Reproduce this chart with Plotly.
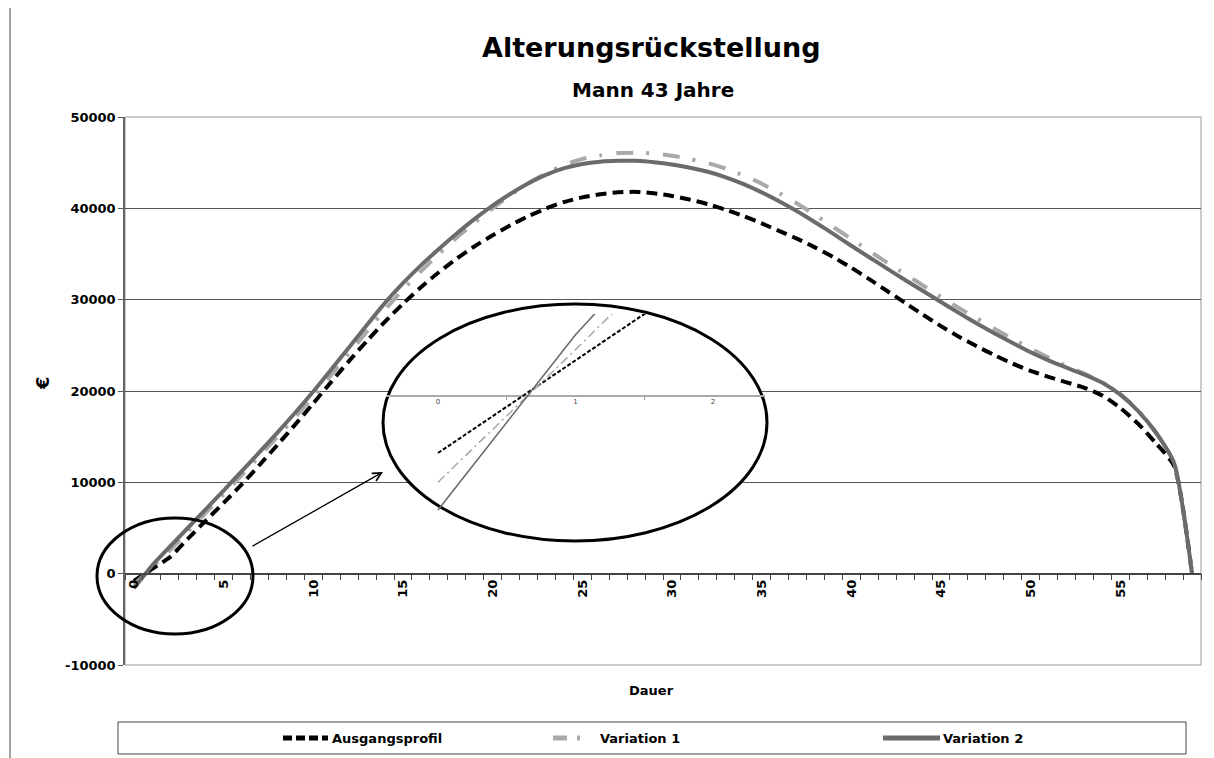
import plotly.graph_objects as go

# ---------------- data ----------------
categories = list(range(60))

ausgangsprofil = [
    -800, 500, 1800, 3800, 5800, 7750, 9750, 11900, 14100, 16350,
    18650, 21000, 23300, 25500, 27600, 29550, 31350, 33000, 34500, 35850,
    37050, 38150, 39150, 40000, 40700, 41200, 41550, 41750, 41800, 41650,
    41350, 40950, 40450, 39850, 39150, 38350, 37500, 36650, 35700, 34650,
    33500, 32250, 30950, 29650, 28350, 27100, 25950, 24900, 23900, 23000,
    22200, 21550, 20950, 20350, 19500, 18150, 16400, 14250, 11800, 0]

variation_1 = [
    -1210, 650, 2550, 4600, 6650, 8700, 10750, 12850, 15000, 17150,
    19400, 21750, 24150, 26550, 28900, 31100, 33100, 35000, 36800, 38450,
    40000, 41450, 42750, 43850, 44750, 45400, 45800, 46050, 46100, 46000,
    45750, 45400, 44950, 44350, 43600, 42700, 41650, 40500, 39250, 37950,
    36650, 35350, 34050, 32800, 31550, 30300, 29100, 27950, 26800, 25700,
    24650, 23650, 22750, 21900, 20950, 19650, 17850, 15450, 12100, 0]

variation_2 = [
    -1600, 860, 2950, 5000, 7050, 9100, 11200, 13300, 15450, 17650,
    19950, 22350, 24800, 27250, 29650, 31800, 33750, 35550, 37250, 38850,
    40300, 41600, 42750, 43700, 44400, 44850, 45100, 45200, 45200, 45050,
    44800, 44450, 44000, 43400, 42650, 41750, 40750, 39650, 38450, 37200,
    35900, 34650, 33400, 32150, 30950, 29750, 28550, 27400, 26300, 25250,
    24250, 23350, 22550, 21800, 20900, 19600, 17800, 15400, 12100, 0]

series_names = ["Ausgangsprofil", "Variation 1", "Variation 2"]
y_tick_values = [-10000, 0, 10000, 20000, 30000, 40000, 50000]
y_tick_labels = ["-10000", "0", "10000", "20000", "30000", "40000", "50000"]
x_tick_values = list(range(0, 60, 5))
inset_tick_values = [0, 1, 2]

# ---------------- layout helpers ----------------
# (page body has an 8px margin; screen px = figure px + 8)
W_FIG, H_FIG = 1214, 758
L, R, T, B = 117, 21, 109, 101
PW = W_FIG - L - R
PH = H_FIG - T - B
OFF = 8


def px_x(p):
    """screen x (reference px) -> paper fraction"""
    return (p - OFF - L) / PW


def px_y(p):
    """screen y (reference px) -> paper fraction"""
    return (H_FIG - B - (p - OFF)) / PH


X_RANGE = [-0.5, 59.5]
Y_RANGE = [-10000, 50000]


def px_dx(p):
    return X_RANGE[0] + px_x(p) * (X_RANGE[1] - X_RANGE[0])


def px_dy(p):
    return Y_RANGE[0] + px_y(p) * (Y_RANGE[1] - Y_RANGE[0])


FONT = "DejaVu Sans"
COL_BLACK = "#000000"
COL_V1 = "#a9a9a9"
COL_V2 = "#6b6b6b"

fig = go.Figure()

# main traces
fig.add_trace(go.Scatter(
    x=categories, y=ausgangsprofil, name=series_names[0], mode="lines",
    line=dict(color=COL_BLACK, width=4, dash="11px,6px", shape="spline", smoothing=0.6),
    showlegend=False))
fig.add_trace(go.Scatter(
    x=categories, y=variation_1, name=series_names[1], mode="lines",
    line=dict(color=COL_V1, width=4, dash="17px,13px,3px,14px", shape="spline", smoothing=0.6),
    showlegend=False))
fig.add_trace(go.Scatter(
    x=categories, y=variation_2, name=series_names[2], mode="lines",
    line=dict(color=COL_V2, width=4, shape="spline", smoothing=0.6),
    showlegend=False))

# inset (zoom of the first segments)
fig.add_trace(go.Scatter(
    x=categories[:3], y=ausgangsprofil[:3], mode="lines", xaxis="x2", yaxis="y2",
    line=dict(color=COL_BLACK, width=2, dash="4px,2px"), showlegend=False))
fig.add_trace(go.Scatter(
    x=categories[:3], y=variation_1[:3], mode="lines", xaxis="x2", yaxis="y2",
    line=dict(color=COL_V1, width=1.6, dash="9px,4px,2px,4px"), showlegend=False))
fig.add_trace(go.Scatter(
    x=categories[:3], y=variation_2[:3], mode="lines", xaxis="x2", yaxis="y2",
    line=dict(color=COL_V2, width=1.6), showlegend=False))

# inset geometry (reference px)
INS_X0, INS_X1 = 386, 765
INS_Y0, INS_Y1 = 314, 530
INS_ZERO = 396
ins_x_unit = 137.5
ins_scale = 0.07125  # px per EUR
ins_xr = [(INS_X0 - 438) / ins_x_unit, (INS_X1 - 438) / ins_x_unit]
ins_yr = [(INS_ZERO - INS_Y1) / ins_scale, (INS_ZERO - INS_Y0) / ins_scale]

shapes = []
# plot-area border
shapes.append(dict(type="rect", xref="paper", yref="paper", x0=0, x1=1, y0=0, y1=1,
                   line=dict(color="#9a9a9a", width=1), layer="below"))
# outer chart frame line on the left
shapes.append(dict(type="line", xref="paper", yref="paper", x0=px_x(10), x1=px_x(10),
                   y0=px_y(0), y1=px_y(760), line=dict(color="#444", width=1)))
# small ellipse around origin
shapes.append(dict(type="circle", xref="paper", yref="paper",
                   x0=px_x(97), x1=px_x(253), y0=px_y(634), y1=px_y(518),
                   line=dict(color="black", width=3), layer="above"))

# legend (manual)
LG_Y = 738
shapes.append(dict(type="rect", xref="paper", yref="paper",
                   x0=px_x(118), x1=px_x(1186), y0=px_y(754), y1=px_y(722),
                   line=dict(color="#444", width=1), fillcolor="white"))
shapes.append(dict(type="line", xref="paper", yref="paper",
                   x0=px_x(283), x1=px_x(328), y0=px_y(LG_Y), y1=px_y(LG_Y),
                   line=dict(color=COL_BLACK, width=5, dash="9px,4px")))
shapes.append(dict(type="line", xref="paper", yref="paper",
                   x0=px_x(553), x1=px_x(594), y0=px_y(LG_Y), y1=px_y(LG_Y),
                   line=dict(color=COL_V1, width=5, dash="14px,10px,3px,20px")))
shapes.append(dict(type="line", xref="paper", yref="paper",
                   x0=px_x(883), x1=px_x(940), y0=px_y(LG_Y), y1=px_y(LG_Y),
                   line=dict(color=COL_V2, width=5)))
# big ellipse with white fill (between gridlines and traces of main subplot)
shapes.append(dict(type="circle", xref="x", yref="y",
                   x0=px_dx(383), x1=px_dx(767), y0=px_dy(541), y1=px_dy(304),
                   fillcolor="white", line=dict(color="black", width=3), layer="between"))


def txt(text, x, y, size, xanchor="center", angle=0, color="black", bold=True):
    return dict(text=text, x=px_x(x), y=px_y(y), xref="paper", yref="paper",
                xanchor=xanchor, yanchor="middle", showarrow=False, textangle=angle,
                font=dict(family=FONT, size=size, weight="bold" if bold else "normal",
                          color=color))


annotations = [
    txt("Alterungsrückstellung", 651, 47, 27),
    txt("Mann 43 Jahre", 653, 90, 20),
    txt("€", 42, 383, 18, angle=-90),
    txt("Dauer", 651, 690, 13),
    txt(series_names[0], 330, LG_Y, 13, xanchor="left"),
    txt(series_names[1], 598, LG_Y, 13, xanchor="left"),
    txt(series_names[2], 941, LG_Y, 13, xanchor="left"),
]
# arrow from small ellipse to inset
annotations.append(dict(text="", x=px_x(383), y=px_y(472), xref="paper", yref="paper",
                        ax=251 - 383, ay=547 - 472, showarrow=True, arrowhead=5,
                        arrowsize=1.3, arrowwidth=1.3, arrowcolor="black", standoff=0))

fig.update_layout(
    width=W_FIG, height=H_FIG,
    margin=dict(l=L, r=R, t=T, b=B, autoexpand=False),
    paper_bgcolor="white", plot_bgcolor="rgba(0,0,0,0)",
    showlegend=False,
    xaxis=dict(
        domain=[0, 1], range=X_RANGE, anchor="free", position=1 / 6,
        tickmode="array", tickvals=x_tick_values, ticktext=[str(v) for v in x_tick_values],
        ticks="", tickangle=-90,
        tickfont=dict(family=FONT, size=13, weight="bold", color="black"),
        showline=True, linecolor="#444", linewidth=1.5,
        showgrid=False, zeroline=False,
        minor=dict(tickmode="array", tickvals=[k - 0.5 for k in range(61)],
                   ticks="outside", ticklen=6, tickwidth=1, tickcolor="#444", showgrid=False),
    ),
    yaxis=dict(
        domain=[0, 1], range=Y_RANGE,
        tickmode="array", tickvals=y_tick_values, ticktext=y_tick_labels,
        ticks="outside", ticklen=5, tickcolor="#555",
        tickfont=dict(family=FONT, size=13, weight="bold", color="black"),
        showline=True, linecolor="#666", linewidth=1.5,
        showgrid=False, zeroline=False,
        minor=dict(tickmode="array", tickvals=[10000, 20000, 30000, 40000],
                   ticks="", showgrid=True, gridcolor="#555", gridwidth=1),
    ),
    xaxis2=dict(
        domain=[px_x(INS_X0), px_x(INS_X1)], range=ins_xr,
        anchor="free", position=px_y(INS_ZERO),
        tickmode="array", tickvals=inset_tick_values,
        ticktext=[str(v) for v in inset_tick_values], ticks="",
        tickfont=dict(family=FONT, size=7, color="#444"),
        showline=False, showgrid=False, zeroline=False,
        minor=dict(tickmode="array", tickvals=[0.5, 1.5],
                   ticks="outside", ticklen=3, tickwidth=1, tickcolor="#999"),
    ),
    yaxis2=dict(
        domain=[px_y(INS_Y1), px_y(INS_Y0)], range=ins_yr, anchor="x2",
        showticklabels=False, ticks="", showgrid=False, showline=False,
        zeroline=True, zerolinecolor="#aaaaaa", zerolinewidth=1.5,
    ),
    shapes=shapes,
    annotations=annotations,
)

fig.write_html("out.html")
